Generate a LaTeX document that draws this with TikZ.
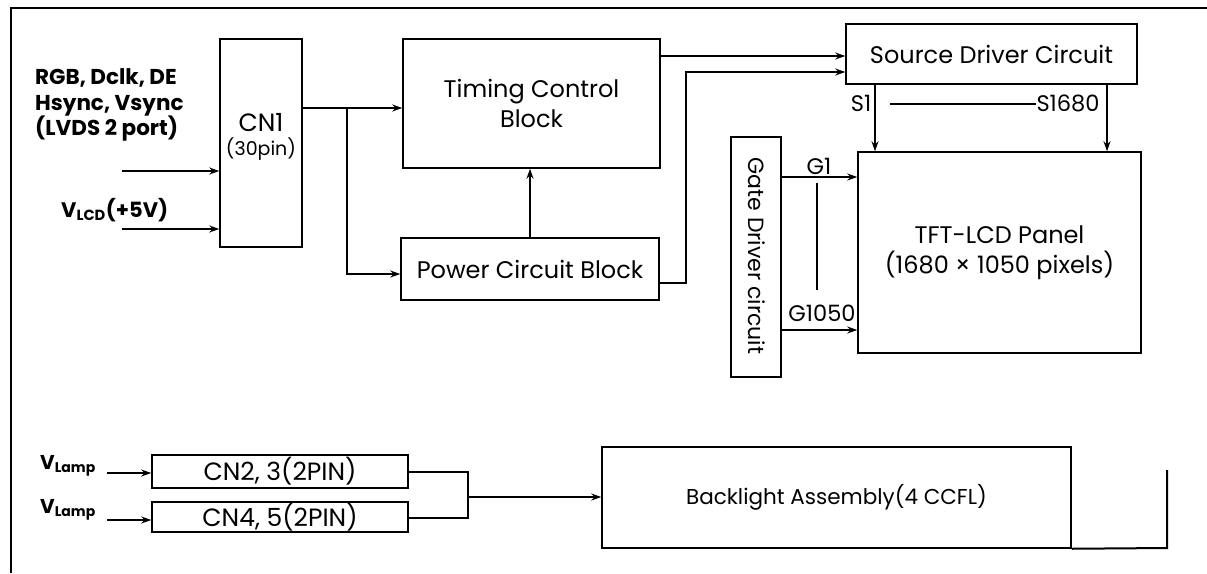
\documentclass[tikz,border=0pt]{standalone}
\usepackage{fontspec}
\setmainfont{Poppins}
\usetikzlibrary{arrows.meta}
\begin{document}
\begin{tikzpicture}[x=1pt,y=-1pt,
  box/.style={draw,line width=1.5pt,inner sep=0pt,align=center,font=\fontsize{24}{30}\selectfont},
  wire/.style={line width=1.5pt},
  arr/.style={line width=1.5pt,-{Stealth[length=10pt,width=7pt]}},
  lbl/.style={inner sep=0pt,font=\fontsize{22.5}{24}\selectfont},
  inlbl/.style={inner sep=0pt,align=left,font=\bfseries\fontsize{21.5}{25.5}\selectfont}]
\useasboundingbox (0,0) rectangle (1207,573);
\fill[white] (0,0) rectangle (1207,573);
% frame
\draw[line width=2pt] (1207,8) -- (11,8) -- (11,573);
% boxes
\node[box,minimum width=82pt,minimum height=208pt] (CN) at (261,143) {};
\node[inner sep=0pt,font=\fontsize{25}{28}\selectfont] (cnt) at (261,123) {CN1};
\node[inner sep=0pt,font=\fontsize{19}{22}\selectfont] (cnp) at (261,149) {(30pin)};
\node[box,minimum width=257pt,minimum height=129pt] (TC) at (531.5,103.5) {Timing Control\\Block};
\node[box,minimum width=258pt,minimum height=62pt] (PC) at (530,269) {Power Circuit Block};
\node[box,minimum width=291pt,minimum height=60pt] (SD) at (991.5,54) {Source Driver Circuit};
\node[box,minimum width=50pt,minimum height=240pt] (GD) at (756,257) {};
\node[inner sep=0pt,rotate=-90,font=\fontsize{22}{24}\selectfont] (gdt) at (757,256) {Gate Driver circuit};
\node[box,minimum width=283pt,minimum height=201pt] (PN) at (999.5,252.5) {TFT-LCD Panel\\(1680 × 1050 pixels)};
\node[box,minimum width=256pt,minimum height=33pt,font=\fontsize{25}{28}\selectfont] (C23) at (280,471.5) {CN2, 3(2PIN)};
\node[box,minimum width=256pt,minimum height=30pt,font=\fontsize{25}{28}\selectfont] (C45) at (280,517) {CN4, 5(2PIN)};
\node[box,minimum width=469pt,minimum height=101pt,font=\fontsize{21.5}{26}\selectfont] (BL) at (836.5,497.5) {Backlight Assembly(4 CCFL)};
% frame bottom/right
\coordinate (fr) at (1167,548);
\coordinate (ft) at (1167,470);
\draw[line width=2pt] (BL.south east) -- (fr) -- (ft);
% input labels
\node[inlbl,anchor=west] (rgb) at (35,105) {RGB, Dclk, DE\\Hsync, Vsync\\(LVDS 2 port)};
\node[inlbl,anchor=west,font=\bfseries\fontsize{21}{24}\selectfont] (vlcd) at (61,210) {V\textsubscript{LCD}(+5V)};
\node[inlbl,anchor=west,font=\bfseries\fontsize{20}{24}\selectfont] (vl1) at (40,466) {V\raisebox{-0.25ex}{\fontsize{14}{16}\selectfont Lamp}};
\node[inlbl,anchor=west,font=\bfseries\fontsize{20}{24}\selectfont] (vl2) at (40,510) {V\raisebox{-0.25ex}{\fontsize{14}{16}\selectfont Lamp}};
% coordinates
\coordinate (i1) at (122,171);
\coordinate (i2) at (122,229);
\coordinate (j1) at (347,108);
\coordinate (j2) at (347,274);
\coordinate (sA) at (760,56);
\coordinate (b1) at (686,283);
\coordinate (b2) at (686,72);
\coordinate (sx1) at (875,0);
\coordinate (sx2) at (1107,0);
\coordinate (g1) at (800,177);
\coordinate (g2) at (800,330);
\coordinate (l1) at (107,473);
\coordinate (l2) at (107,520);
\coordinate (m1) at (468,472);
\coordinate (m2) at (468,518);
\coordinate (m3) at (468,497);
% connectors
\draw[arr] (i1) -- (CN.west |- i1);
\draw[arr] (i2) -- (CN.west |- i2);
\draw[arr] (CN.east |- j1) -- (TC.west |- j1);
\draw[arr] (j1) -- (j2) -- (PC.west |- j2);
\draw[arr] (PC.north) -- (PC.north |- TC.south);
\draw[arr] (TC.east |- sA) -- (SD.west |- sA);
\draw[arr] (PC.east |- b1) -- (b1) -- (b2) -- (SD.west |- b2);
\draw[arr] (SD.south -| sx1) -- (PN.north -| sx1);
\draw[arr] (SD.south -| sx2) -- (PN.north -| sx2);
\draw[arr] (GD.east |- g1) -- (PN.west |- g1);
\draw[arr] (GD.east |- g2) -- (PN.west |- g2);
\draw[arr] (l1) -- (C23.west |- l1);
\draw[arr] (l2) -- (C45.west |- l2);
\draw[wire] (C23.east |- m1) -- (m1) -- (m2) -- (C45.east |- m2);
\draw[arr] (m3) -- (BL.west |- m3);
% S / G labels
\node[lbl] (s1) at (861,103) {S1};
\node[lbl] (s1680) at (1068,103) {S1680};
\coordinate (sl) at (890,104);
\draw[wire] (sl) -- (s1680.west |- sl);
\node[lbl] (g1t) at (819,166) {G1};
\node[lbl] (g1050) at (822,313) {G1050};
\coordinate (v1) at (817,183);
\coordinate (v2) at (817,290);
\draw[line width=2pt] (v1) -- (v2);
\end{tikzpicture}
\end{document}
